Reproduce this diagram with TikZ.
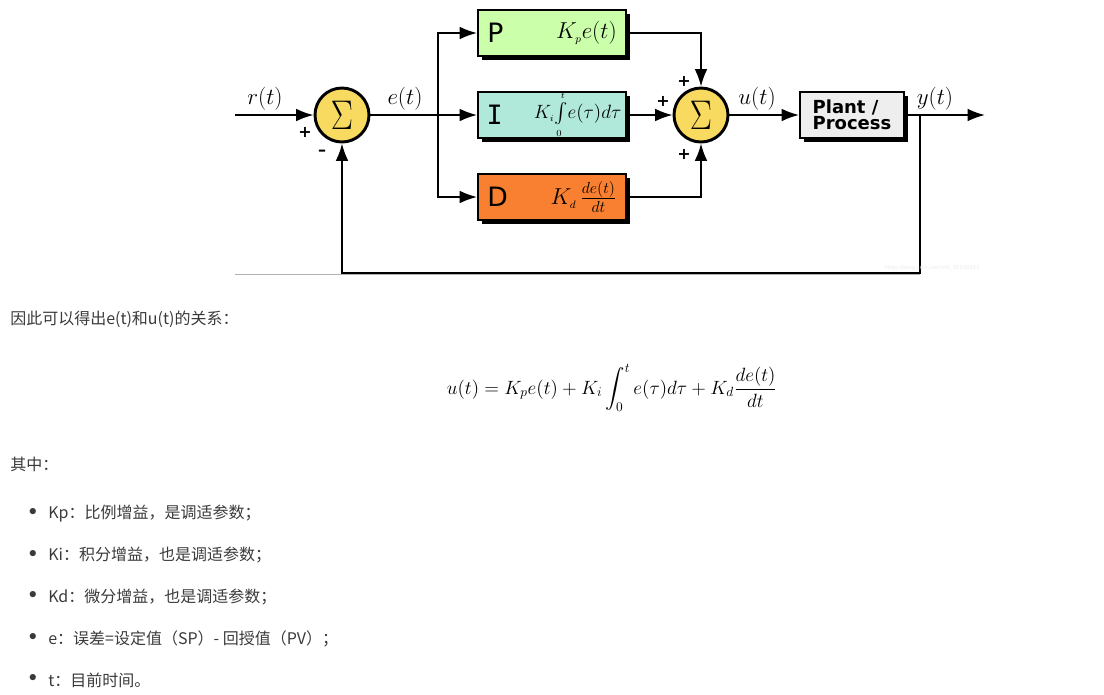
\documentclass[tikz,border=0pt]{standalone}
\usepackage{amsmath}
\usepackage{amssymb}
\usepackage{fontspec}
\newfontfamily\cjkfont{Noto Sans CJK SC}
\newfontfamily\blocksans{DejaVu Sans}
\newfontfamily\blockmono{DejaVu Sans Mono}
\usepackage[HTML]{xcolor}
\usepackage{tikz}
\usetikzlibrary{positioning, arrows.meta, shadows}
\definecolor{pgreen}{HTML}{CCFFAA}
\definecolor{iteal}{HTML}{B0E8DA}
\definecolor{dorange}{HTML}{F88030}
\definecolor{sumyellow}{HTML}{F8DA60}
\definecolor{plantgray}{HTML}{EEEEEE}
\definecolor{bodytext}{HTML}{3A3A3A}

\begin{document}
\begin{tikzpicture}[x=0.75pt, y=-0.75pt,
  wire/.style={line width=1.4pt},
  sig/.style={wire, -{Latex[length=13pt,width=9.5pt]}},
  sumnode/.style={circle, draw, line width=2.2pt, fill=sumyellow, minimum size=40.5pt, inner sep=0pt},
  block/.style={draw, line width=1.4pt, minimum width=111pt, minimum height=34pt, inner sep=0pt,
    drop shadow={shadow xshift=3pt, shadow yshift=-3pt, fill=black, opacity=1}},
  siglabel/.style={font=\fontsize{16}{16}\selectfont},
  signlbl/.style={font=\blocksans\bfseries\fontsize{12}{12}\selectfont, inner sep=0pt},
  letter/.style={font=\blocksans\fontsize{20}{20}\selectfont, inner sep=0pt},
  expr/.style={font=\fontsize{17}{17}\selectfont, inner sep=0pt},
  bodyline/.style={font=\cjkfont\fontsize{12}{14}\selectfont, text=bodytext, inner sep=0pt}]
\useasboundingbox (0,0) rectangle (1104,694);

% Summing junctions and blocks
\node[sumnode] (S1) at (342,115) {\scalebox{1}[1.25]{\fontsize{26}{26}\selectfont$\Sigma$}};
\node[sumnode] (S2) at (701,115) {\scalebox{1}[1.25]{\fontsize{26}{26}\selectfont$\Sigma$}};
\node[block, fill=pgreen] (P) at (552,33) {};
\node[block, fill=iteal] (I) at (552,115) {};
\node[block, fill=dorange] (D) at (552,197) {};
\node[block, fill=plantgray, minimum width=78pt, minimum height=34.5pt,
  font=\blocksans\bfseries\fontsize{13.5}{12}\selectfont, align=left] (plant) at (852,115) {Plant /\\Process};

% Block contents
\node[letter, anchor=west] (Plbl) at ([xshift=7.5pt]P.west) {P};
\node[letter, anchor=west, font=\blockmono\fontsize{20}{20}\selectfont] (Ilbl) at ([xshift=7pt]I.west) {I};
\node[letter, anchor=west] (Dlbl) at ([xshift=7.5pt]D.west) {D};
\node[expr, anchor=east] (Pexpr) at ([xshift=-7.5pt]P.east) {$K_{\scriptscriptstyle p}e(t)$};
\node[expr, anchor=east, font=\fontsize{15}{15}\selectfont] (Iexpr) at ([xshift=-4pt]I.east)
  {$K_{\scriptscriptstyle i}\!\int\limits_{\scriptscriptstyle 0}^{\scriptscriptstyle t}\! e(\tau)d\tau$};
\node[expr, anchor=east] (Dexpr) at ([xshift=-7.5pt]D.east) {$K_{\scriptscriptstyle d}\,\frac{de(t)}{dt}$};

% Connectors
\coordinate (rin) at (235,115);
\coordinate (split) at (438,115);
\coordinate (ybranch) at (920,115);
\coordinate (yout) at (985,115);
\coordinate (fbcorner) at (920,273);
\coordinate (fbleft) at (342,273);
\coordinate (edgeL) at (235,274);
\coordinate (edgeR) at (920,274);

\draw[gray!60, line width=0.6pt] (edgeL) -- (edgeR);
\draw[sig] (rin) -- (S1.west);
\draw[wire] (S1.east) -- (split);
\draw[sig] (split) -- (I.west);
\draw[sig] (split) |- (P.west);
\draw[sig] (split) |- (D.west);
\draw[sig] (P.east) -| (S2.north);
\draw[sig] (I.east) -- (S2.west);
\draw[sig] (D.east) -| (S2.south);
\draw[sig] (S2.east) -- (plant.west);
\draw[wire] (plant.east) -- (ybranch);
\draw[sig] (ybranch) -- (yout);
\draw[sig] (ybranch) -- (fbcorner) -- (fbleft) -- (S1.south);

% Signal labels and signs
\node[siglabel] (rlbl) at (265,99) {$r(t)$};
\node[siglabel] (elbl) at (405,99) {$e(t)$};
\node[siglabel] (ulbl) at (757,99) {$u(t)$};
\node[siglabel] (ylbl) at (935,99) {$y(t)$};
\node[signlbl] (s1plus) at (305,132) {+};
\node[signlbl] (s1minus) at (322,153) {–};
\node[signlbl] (s2top) at (684,81) {+};
\node[signlbl] (s2left) at (663,101) {+};
\node[signlbl] (s2bot) at (684,154) {+};
\node[font=\blocksans\fontsize{4}{4}\selectfont, text=black!8] (wmark) at (932,268) {https://blog.csdn.net/m0\_38106923};

% Text below the diagram
\node[bodyline, anchor=west] (intro) at (10,319) {因此可以得出e(t)和u(t)的关系：};
\node[font=\fontsize{14.5}{14.5}\selectfont] (pideq) at (612,388)
  {$\displaystyle u(t)=K_pe(t)+K_i\int_0^t e(\tau)d\tau+K_d\frac{de(t)}{dt}$};
\node[bodyline, anchor=west] (where) at (10,464) {其中：};

\foreach \txt [count=\k] in {{Kp：比例增益，是调适参数；}, {Ki：积分增益，也是调适参数；},
  {Kd：微分增益，也是调适参数；}, {e：误差=设定值（SP）- 回授值（PV）；}, {t：目前时间。}}{
  \node[bodyline, font=\blocksans\fontsize{16}{16}\selectfont] (bullet\k) at (33,{514+41.5*(\k-1)}) {•};
  \node[bodyline, anchor=west] (item\k) at (48,{514+41.5*(\k-1)}) {\txt};
}
\end{tikzpicture}
\end{document}
